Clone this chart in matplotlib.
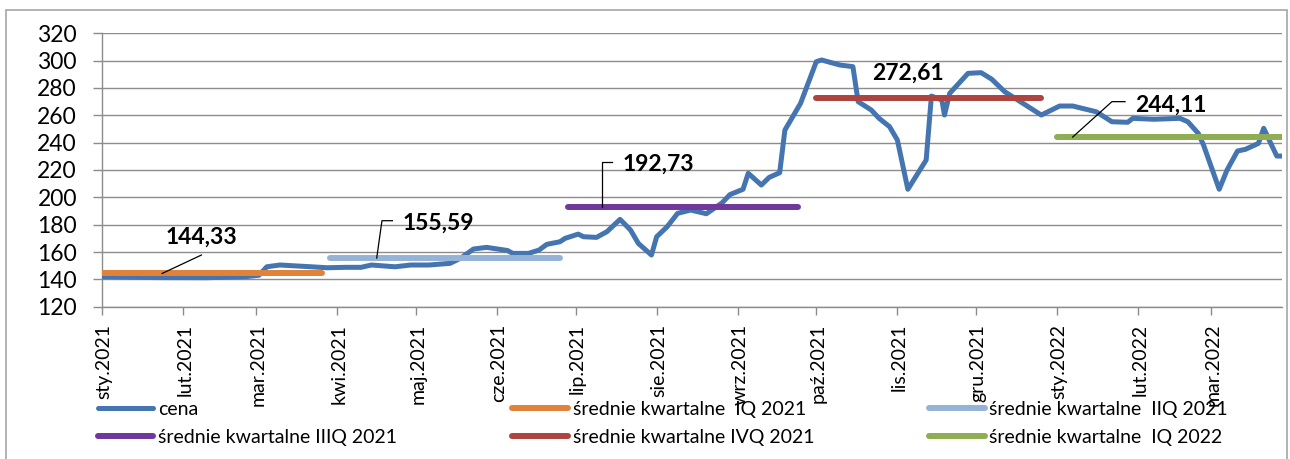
import pandas as pd
import matplotlib
matplotlib.use('Agg')
import matplotlib.pyplot as plt
import matplotlib.dates as mdates
import matplotlib.transforms as mtransforms
from matplotlib.patches import Rectangle
from matplotlib.ticker import FuncFormatter

plt.rcParams['font.family'] = ['Lato', 'DejaVu Sans']

# cena
dates = ['2021-01-01', '2021-01-21', '2021-02-10', '2021-02-25', '2021-03-02', '2021-03-05',
         '2021-03-10', '2021-03-22', '2021-03-28', '2021-04-04', '2021-04-10', '2021-04-14',
         '2021-04-23', '2021-04-29', '2021-05-06', '2021-05-14', '2021-05-18', '2021-05-23',
         '2021-05-28', '2021-06-05', '2021-06-07', '2021-06-13', '2021-06-17', '2021-06-20',
         '2021-06-25', '2021-06-27', '2021-07-02', '2021-07-04', '2021-07-09', '2021-07-13',
         '2021-07-18', '2021-07-22', '2021-07-25', '2021-07-30', '2021-08-01', '2021-08-05',
         '2021-08-09', '2021-08-14', '2021-08-20', '2021-08-26', '2021-08-29', '2021-09-03',
         '2021-09-05', '2021-09-10', '2021-09-13', '2021-09-17', '2021-09-19', '2021-09-25',
         '2021-10-01', '2021-10-03', '2021-10-10', '2021-10-15', '2021-10-17', '2021-10-22',
         '2021-10-25', '2021-10-29', '2021-11-01', '2021-11-05', '2021-11-12', '2021-11-14',
         '2021-11-18', '2021-11-19', '2021-11-21', '2021-11-28', '2021-12-03', '2021-12-07',
         '2021-12-12', '2021-12-26', '2022-01-02', '2022-01-07', '2022-01-16', '2022-01-22',
         '2022-01-28', '2022-01-30', '2022-02-07', '2022-02-17', '2022-02-20', '2022-02-24',
         '2022-02-26', '2022-03-04', '2022-03-07', '2022-03-11', '2022-03-14', '2022-03-19',
         '2022-03-21', '2022-03-26', '2022-03-28']
prices = [142.0, 141.3, 141.2, 142.0, 143.0, 149.2,
          150.5, 149.2, 148.5, 148.8, 148.8, 150.5,
          149.2, 150.5, 150.5, 151.7, 155.4, 162.2,
          163.4, 161.1, 159.0, 159.0, 161.4, 165.6,
          167.5, 170.0, 173.1, 171.2, 170.7, 174.9,
          183.9, 176.1, 166.3, 157.8, 171.2, 178.5,
          188.3, 190.7, 188.0, 196.0, 202.0, 205.9,
          217.6, 209.0, 214.6, 218.0, 249.2, 268.8,
          299.2, 300.5, 296.8, 295.6, 270.0, 263.9,
          257.8, 251.7, 241.9, 205.9, 227.3, 274.1,
          271.2, 260.2, 276.1, 290.7, 291.2, 286.5,
          277.3, 260.2, 266.8, 266.8, 262.6, 255.3,
          254.9, 257.8, 257.1, 257.8, 255.3, 246.8,
          238.3, 205.9, 220.0, 233.9, 235.1, 239.5,
          250.5, 230.2, 230.2]

# średnie kwartalne
q_labels = ['średnie kwartalne  IQ 2021', 'średnie kwartalne  IIQ 2021',
            'średnie kwartalne IIIQ 2021', 'średnie kwartalne IVQ 2021',
            'średnie kwartalne  IQ 2022']
q_start = ['2021-01-01', '2021-03-29', '2021-06-28', '2021-10-01', '2022-01-01']
q_end = ['2021-03-26', '2021-06-25', '2021-09-24', '2021-12-26', '2022-03-28']
q_avg = [144.33, 155.59, 192.73, 272.61, 244.11]
q_colors = ['#E0823A', '#95B3D7', '#70389A', '#AE4440', '#8FAE53']

month_abbr = ['sty', 'lut', 'mar', 'kwi', 'maj', 'cze', 'lip', 'sie', 'wrz', 'paź', 'lis', 'gru']

# położenie etykiet wartości i linii odniesienia
label_pos = [
    ('2021-02-08', 166.3, 'center', [('2021-01-24', None), ('2021-02-08', 157.8)]),
    ('2021-04-26', 176.1, 'left', [('2021-04-16', None), ('2021-04-18', 182.9), ('2021-04-22', 182.9)]),
    ('2021-07-19', 219.5, 'left', [('2021-07-11', None), ('2021-07-11', 226.0), ('2021-07-15', 226.0)]),
    ('2021-11-05', 286.3, 'center', []),
    ('2022-01-31', 262.6, 'left', [('2022-01-07', None), ('2022-01-22', 270.0), ('2022-01-27', 270.0)]),
]

W, H = 1290, 459
fig = plt.figure(figsize=(W / 100, H / 100), dpi=100)
ax = fig.add_axes([102 / W, 1 - 306.7 / H, 1180 / W, 273.4 / H])

price_line, = ax.plot(pd.to_datetime(dates), prices, color='#4575B0', lw=3.6,
                      solid_joinstyle='round', solid_capstyle='round', zorder=3, label='cena')

q_lines = []
for s, e, v, c, lab in zip(q_start, q_end, q_avg, q_colors, q_labels):
    ln, = ax.plot(pd.to_datetime([s, e]), [v, v], color=c, lw=4.3,
                  solid_capstyle='round', zorder=4, label=lab)
    q_lines.append(ln)

for (td, tv, ha, path), v in zip(label_pos, q_avg):
    txt = f'{v:.2f}'.replace('.', ',')
    ax.text(pd.Timestamp(td), tv, txt, ha=ha, va='baseline', fontsize=16.5,
            fontweight='bold', color='black', zorder=6)
    if path:
        xs = [pd.Timestamp(p[0]) for p in path]
        ys = [v if p[1] is None else p[1] for p in path]
        ax.plot(xs, ys, color='black', lw=0.9, zorder=5)

ax.set_ylim(120, 320)
ax.set_yticks(range(120, 321, 20))
ax.set_xlim(pd.Timestamp('2021-01-01'), pd.Timestamp('2022-03-28'))
ax.xaxis.set_major_locator(mdates.MonthLocator())
ax.xaxis.set_major_formatter(FuncFormatter(
    lambda x, pos: f'{month_abbr[mdates.num2date(x).month - 1]}.{mdates.num2date(x).year}'))

grid_col = '#8C8C8C'
ax.grid(axis='y', color=grid_col, lw=1.0)
ax.set_axisbelow(True)
for side in ['top', 'right']:
    ax.spines[side].set_visible(False)
for side in ['left', 'bottom']:
    ax.spines[side].set_color(grid_col)
    ax.spines[side].set_linewidth(1.0)

ax.tick_params(axis='y', length=6.5, width=1.0, color=grid_col, pad=11.5, labelsize=16.5)
ax.tick_params(axis='x', length=5.8, width=1.0, color=grid_col, pad=6.5, labelsize=14,
               labelrotation=90)
offset = mtransforms.ScaledTranslation(2 / 100, 0, fig.dpi_scale_trans)
for lbl in ax.get_xticklabels():
    lbl.set_transform(lbl.get_transform() + offset)

handles = [price_line, q_lines[2], q_lines[0], q_lines[3], q_lines[1], q_lines[4]]
fig.legend(handles, [h.get_label() for h in handles], ncol=3, loc='upper left',
           bbox_to_anchor=(98 / W, 0, 1130 / W, 1 - 401 / H), mode='expand',
           frameon=False, fontsize=14, handlelength=2.85, handletextpad=0.25,
           labelspacing=0.57, borderaxespad=0, borderpad=0)

fig.patches.append(Rectangle((6 / W, -0.05), (1287 - 6) / W, 1.05 - 10 / H,
                             transform=fig.transFigure, fill=False,
                             edgecolor='#A6A6A6', lw=1.2))

fig.savefig('out.png', dpi=100)
